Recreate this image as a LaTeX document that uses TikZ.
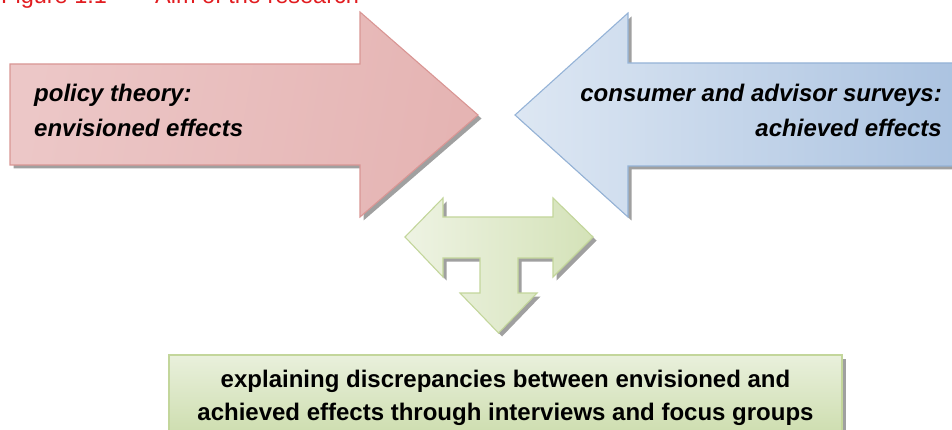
\documentclass[tikz,border=0pt]{standalone}
\usepackage{fontspec}
\setmainfont{Liberation Sans}
\definecolor{titlered}{RGB}{225,28,32}
\definecolor{redL}{RGB}{236,199,199}
\definecolor{redM}{RGB}{243,222,222}
\definecolor{redR}{RGB}{229,180,179}
\definecolor{redEdge}{RGB}{217,150,148}
\definecolor{bluL}{RGB}{221,231,243}
\definecolor{bluM}{RGB}{205,220,238}
\definecolor{bluR}{RGB}{170,194,224}
\definecolor{bluEdge}{RGB}{149,179,215}
\definecolor{grnL}{RGB}{238,243,227}
\definecolor{grnR}{RGB}{212,226,184}
\definecolor{grnTop}{RGB}{233,240,220}
\definecolor{grnBot}{RGB}{200,218,166}
\definecolor{grnEdge}{RGB}{195,214,155}
\definecolor{shadowgray}{RGB}{160,160,160}

% outlines of the three arrows and the result box
\newcommand\RedArrowPath{(10,64) -- (360,64) -- (360,12) -- (478,115) -- (360,217) -- (360,165) -- (10,165) -- cycle}
\newcommand\BlueArrowPath{(970,63) -- (628,63) -- (628,13) -- (515,115) -- (628,217) -- (628,166) -- (970,166) -- cycle}
\newcommand\TeeArrowPath{(405,237) -- (443,198) -- (443,217) -- (553,217) -- (553,198) -- (593,237) -- (553,277) -- (553,258) -- (518,258) -- (518,293) -- (537,293) -- (498.5,333) -- (460,293) -- (480,293) -- (480,258) -- (443,258) -- (443,277) -- cycle}
\newcommand\ResultBoxPath{(169,355) rectangle (842,450)}

\begin{document}
\begin{tikzpicture}[x=1pt,y=-1pt,
  shadowfill/.style={fill=shadowgray},
  edge/.style={line width=1.1pt, line join=miter},
  arrowtext/.style={inner sep=0pt, font=\fontsize{24}{28}\selectfont\bfseries\itshape},
  boxtext/.style={inner sep=0pt, font=\fontsize{24}{28}\selectfont\bfseries},
  titletext/.style={inner sep=0pt, text=titlered, font=\fontsize{23.5}{28}\selectfont}]
\useasboundingbox (0,0) rectangle (952,430);
\clip (0,0) rectangle (952,430);

% caption line, running off the top edge
\node[titletext, anchor=base west] (fignum) at (1,3.5) {Figure 1.1};
\node[titletext, anchor=base west] (figtitle) at (155,3.5) {Aim of the research};

% drop shadows
\fill[shadowfill, shift={(3.5,3.5)}] \RedArrowPath;
\fill[shadowfill, shift={(3.5,3.5)}] \BlueArrowPath;
\fill[shadowfill, shift={(3.5,3.5)}] \TeeArrowPath;
\fill[shadowfill, shift={(3.5,3.5)}] \ResultBoxPath;

% policy theory arrow
\shade[left color=redL, middle color=redM, right color=redR, shading angle=80] \RedArrowPath;
\draw[edge, draw=redEdge] \RedArrowPath;
% survey arrow
\shade[left color=bluL, middle color=bluM, right color=bluR] \BlueArrowPath;
\draw[edge, draw=bluEdge] \BlueArrowPath;
% explanation arrow
\shade[left color=grnL, right color=grnR] \TeeArrowPath;
\draw[edge, draw=grnEdge] \TeeArrowPath;
% result box
\shade[top color=grnTop, bottom color=grnBot] \ResultBoxPath;
\draw[edge, draw=grnEdge] \ResultBoxPath;

\node[arrowtext, anchor=base west] (policyA) at (34,102) {policy theory:};
\node[arrowtext, anchor=base west] (policyB) at (34,137) {envisioned effects};
\node[arrowtext, anchor=base east] (surveyA) at (942,102) {consumer and advisor surveys:};
\node[arrowtext, anchor=base east] (surveyB) at (942,137) {achieved effects};
\node[boxtext, anchor=base] (explainA) at (505.5,387) {explaining discrepancies between envisioned and};
\node[boxtext, anchor=base] (explainB) at (505.5,420) {achieved effects through interviews and focus groups};
\end{tikzpicture}
\end{document}
